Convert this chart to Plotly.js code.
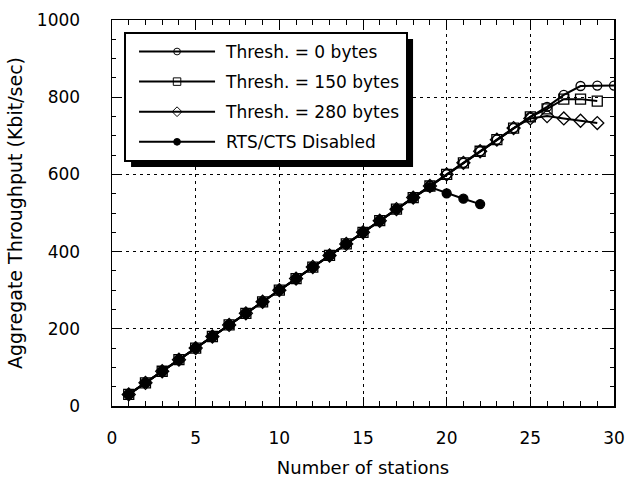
<!DOCTYPE html>
<html><head><meta charset="utf-8">
<script src="https://cdn.plot.ly/plotly-3.0.1.min.js"></script>
<style>body{margin:0;background:#fff}#c{width:630px;height:492px}</style>
</head><body><div id="c"></div>
<script>
const stations = [1,2,3,4,5,6,7,8,9,10,11,12,13,14,15,16,17,18,19,20,21,22,23,24,25,26,27,28,29,30];
const thresh0 = [30,60,90,120,150,180,210,240,270,300,330,360,390,420,450,480,510,540,570,600,630,660,690,720,749,775,806,829,830,830];
const thresh150 = [30,60,90,120,150,180,210,240,270,300,330,360,390,420,450,480,510,540,570,600,630,660,690,720,749,770,795,795,790];
const thresh280 = [30,60,90,120,150,180,210,240,270,300,330,360,390,420,450,480,510,540,570,600,630,660,690,720,745,751,745,739,733];
const rtsOff = [30,60,90,120,150,180,210,240,270,300,330,360,390,420,450,480,510,540,567,551,537,523];
const names = ['Thresh. = 0 bytes','Thresh. = 150 bytes','Thresh. = 280 bytes','RTS/CTS Disabled'];

const series = [thresh0, thresh150, thresh280, rtsOff];
const syms = ['circle-open','square-open','diamond-open','circle'];
const sizes = [9,10,10,9];
const traces = series.map((ys,i)=>({
  x: stations.slice(0, ys.length), y: ys, name: names[i], type:'scatter', mode:'lines+markers',
  legendgroup: 'g'+i,
  line:{color:'#000', width:2},
  marker:{symbol:syms[i], size:sizes[i], color:'#000', line:{color:'#000', width:1.3}}
}));

const FAM = 'DejaVu Sans, Liberation Sans, Arial, sans-serif';
const f = s => ({family:FAM, size:s, color:'#000'});
const layout = {
  width:630, height:492,
  margin:{l:112, r:16, t:20, b:86},
  paper_bgcolor:'#fff', plot_bgcolor:'#fff',
  font: f(17),
  showlegend:true,
  legend:{x:0.024, y:0.969, xanchor:'left', yanchor:'top', bgcolor:'#fff', bordercolor:'#000', borderwidth:2,
    font:f(17), tracegroupgap:5, traceorder:'grouped', itemwidth:90},
  xaxis:{range:[0,30], dtick:5, tick0:0, showgrid:true, gridcolor:'#000', griddash:'3px,4px', gridwidth:1,
    zeroline:false, showline:true, linecolor:'#000', linewidth:1.5, mirror:'ticks',
    ticks:'inside', ticklen:9, tickcolor:'#000', ticklabelstandoff:16,
    minor:{dtick:1, ticks:'inside', ticklen:5, tickcolor:'#000', showgrid:false},
    tickfont:f(17),
    title:{text:'Number of stations', font:f(18), standoff:14}},
  yaxis:{range:[0,1000], dtick:200, showgrid:true, gridcolor:'#000', griddash:'3px,4px', gridwidth:1,
    zeroline:false, showline:true, linecolor:'#000', linewidth:1.5, mirror:'ticks',
    ticks:'inside', ticklen:9, tickcolor:'#000', ticklabelstandoff:27,
    minor:{dtick:50, ticks:'inside', ticklen:4, tickcolor:'#000', showgrid:false},
    tickfont:f(17),
    title:{text:'Aggregate Throughput (Kbit/sec)', font:f(19), standoff:9}},
  shapes:[]
};
Plotly.newPlot('c', traces, layout, {displayModeBar:false, staticPlot:true}).then(gd=>{
  const lg = gd.querySelector('.legend');
  if (!lg) return;
  const bb = lg.querySelector('.bg').getBBox();
  const tr = lg.getAttribute('transform').match(/translate\(([-\d.]+)[ ,]+([-\d.]+)\)/);
  const x0 = parseFloat(tr[1]) + bb.x, y0 = parseFloat(tr[2]) + bb.y;
  const fl = gd._fullLayout;
  const px2x = v => (v - fl._size.l) / fl._size.w;
  const px2y = v => 1 - (v - fl._size.t) / fl._size.h;
  return Plotly.relayout(gd, {shapes:[{type:'rect', xref:'paper', yref:'paper', layer:'above',
    x0:px2x(x0+6), x1:px2x(x0+bb.width+6), y0:px2y(y0+6), y1:px2y(y0+bb.height+6),
    fillcolor:'#000', line:{width:0}}]}).then(()=>gd);
}).then(gd=>{
  if (!gd) return;
  // longer legend sample lines with smaller marker centred on them, as in the original
  gd.querySelectorAll('.legend .traces').forEach(t=>{
    t.querySelectorAll('.legendlines path').forEach(p=>p.setAttribute('d','M13,0h76'));
    t.querySelectorAll('.legendpoints path').forEach(p=>{
      p.setAttribute('transform','translate(51,0) scale(0.75)');
    });
  });
});
</script>
</body></html>
